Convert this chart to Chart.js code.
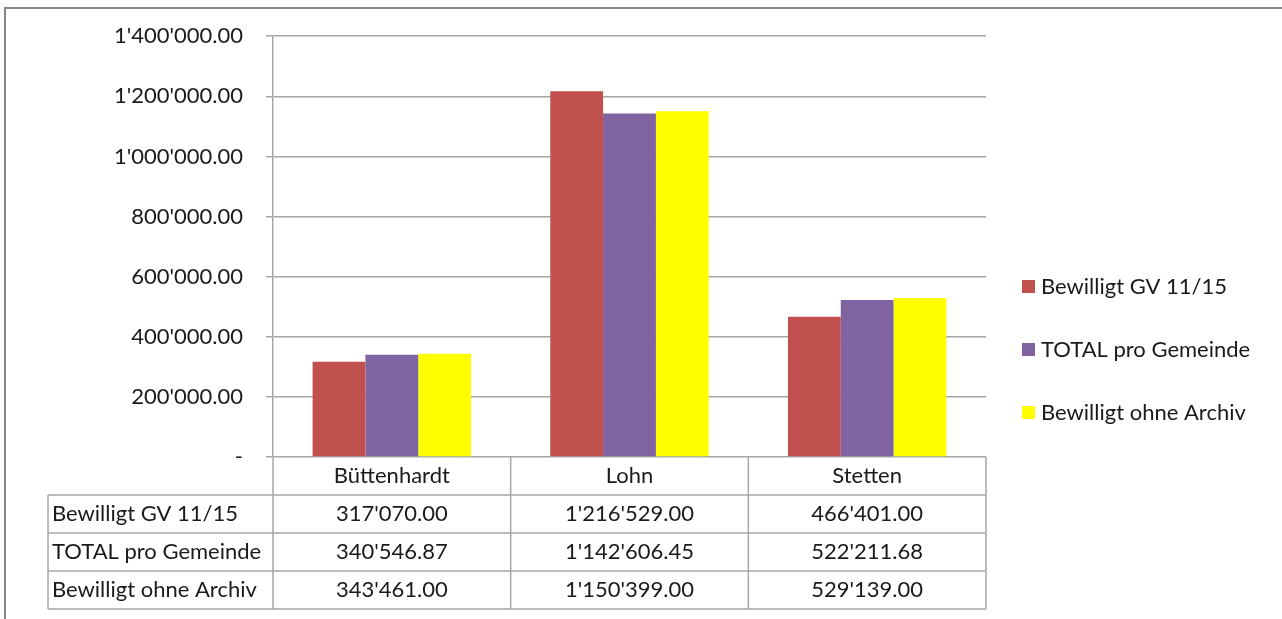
<!DOCTYPE html>
<html>
<head>
<meta charset="utf-8">
<script src="https://cdn.jsdelivr.net/npm/chart.js@4/dist/chart.umd.min.js"></script>
<style>
  html, body { margin: 0; padding: 0; background: #fff; }
  canvas { display: block; }
</style>
</head>
<body>
<canvas id="chart" width="1282" height="619"></canvas>
<script>
// data
const categories = ['Büttenhardt', 'Lohn', 'Stetten'];
const seriesNames = ['Bewilligt GV 11/15', 'TOTAL pro Gemeinde', 'Bewilligt ohne Archiv'];
const bewilligtGV = [317070.00, 1216529.00, 466401.00];
const totalProGemeinde = [340546.87, 1142606.45, 522211.68];
const ohneArchiv = [343461.00, 1150399.00, 529139.00];
const seriesColors = ['#C0504D', '#8064A2', '#FFFF00'];

const FONT = 'Lato, "Open Sans", sans-serif';
const FONT_SIZE = 22;
const TEXT = '#1a1a1a';
const LINE = '#a6a6a6';

function fmt(v) {
    if (v === 0) return '-';
    const parts = v.toFixed(2).split('.');
    return parts[0].replace(/\B(?=(\d{3})+(?!\d))/g, "'") + '.' + parts[1];
}

// draws the data table under the axis, the legend and the frame
const tablePlugin = {
    id: 'dataTable',
    afterDraw(chart) {
        const ctx = chart.ctx;
        const area = chart.chartArea;
        const x = chart.scales.x;
        const rowH = 38;
        const tableLeft = 48;
        const top = area.bottom;
        const half = (x.getPixelForValue(1) - x.getPixelForValue(0)) / 2;
        const bounds = [area.left];
        categories.forEach((c, i) => bounds.push(x.getPixelForValue(i) + half));
        const series = [bewilligtGV, totalProGemeinde, ohneArchiv];

        ctx.save();
        ctx.strokeStyle = LINE;
        ctx.lineWidth = 1.5;
        ctx.beginPath();
        // vertical lines of the category columns
        bounds.forEach(b => {
            ctx.moveTo(b, top);
            ctx.lineTo(b, top + rowH * 4);
        });
        // left edge of the series name column
        ctx.moveTo(tableLeft, top + rowH);
        ctx.lineTo(tableLeft, top + rowH * 4);
        // horizontal lines
        for (let r = 1; r <= 4; r++) {
            ctx.moveTo(tableLeft, top + rowH * r);
            ctx.lineTo(area.right, top + rowH * r);
        }
        ctx.stroke();

        ctx.fillStyle = TEXT;
        ctx.font = FONT_SIZE + 'px ' + FONT;
        ctx.textBaseline = 'middle';
        series.forEach((vals, r) => {
            const cy = top + rowH * (r + 1) + rowH / 2;
            ctx.textAlign = 'left';
            ctx.fillText(seriesNames[r], tableLeft + 4, cy);
            ctx.textAlign = 'center';
            vals.forEach((v, i) => ctx.fillText(fmt(v), x.getPixelForValue(i), cy));
        });

        // legend
        const legY = [286, 349, 412];
        seriesNames.forEach((name, i) => {
            ctx.fillStyle = seriesColors[i];
            ctx.fillRect(1022, legY[i] - 6, 13, 13);
            ctx.fillStyle = TEXT;
            ctx.textAlign = 'left';
            ctx.fillText(name, 1041, legY[i] + 1);
        });

        // outer frame
        ctx.strokeStyle = '#868686';
        ctx.lineWidth = 2;
        ctx.beginPath();
        ctx.moveTo(5, 619);
        ctx.lineTo(5, 8);
        ctx.lineTo(1282, 8);
        ctx.stroke();
        ctx.restore();
    }
};

new Chart(document.getElementById('chart'), {
    type: 'bar',
    data: {
        labels: categories,
        datasets: [
            { label: seriesNames[0], data: bewilligtGV, backgroundColor: seriesColors[0] },
            { label: seriesNames[1], data: totalProGemeinde, backgroundColor: seriesColors[1] },
            { label: seriesNames[2], data: ohneArchiv, backgroundColor: seriesColors[2] }
        ]
    },
    options: {
        responsive: false,
        animation: false,
        devicePixelRatio: 1,
        layout: { padding: { top: 35, right: 296, bottom: 0, left: 0 } },
        datasets: {
            bar: { categoryPercentage: 3 / 4.5, barPercentage: 1 }
        },
        plugins: {
            legend: { display: false },
            tooltip: { enabled: false }
        },
        scales: {
            x: {
                grid: { display: false, drawTicks: false },
                border: { display: false },
                ticks: {
                    color: TEXT,
                    font: { family: FONT, size: FONT_SIZE },
                    padding: 6,
                    maxRotation: 0
                },
                afterFit(scale) { scale.height = 162; }
            },
            y: {
                min: 0,
                max: 1400000,
                grid: { color: LINE, lineWidth: 1.5, tickLength: 7 },
                border: { color: LINE, width: 1.5 },
                ticks: {
                    stepSize: 200000,
                    color: TEXT,
                    font: { family: FONT, size: FONT_SIZE },
                    padding: 23,
                    callback: v => fmt(v)
                },
                afterFit(scale) { scale.width = 273; }
            }
        }
    },
    plugins: [tablePlugin]
});
</script>
</body>
</html>
